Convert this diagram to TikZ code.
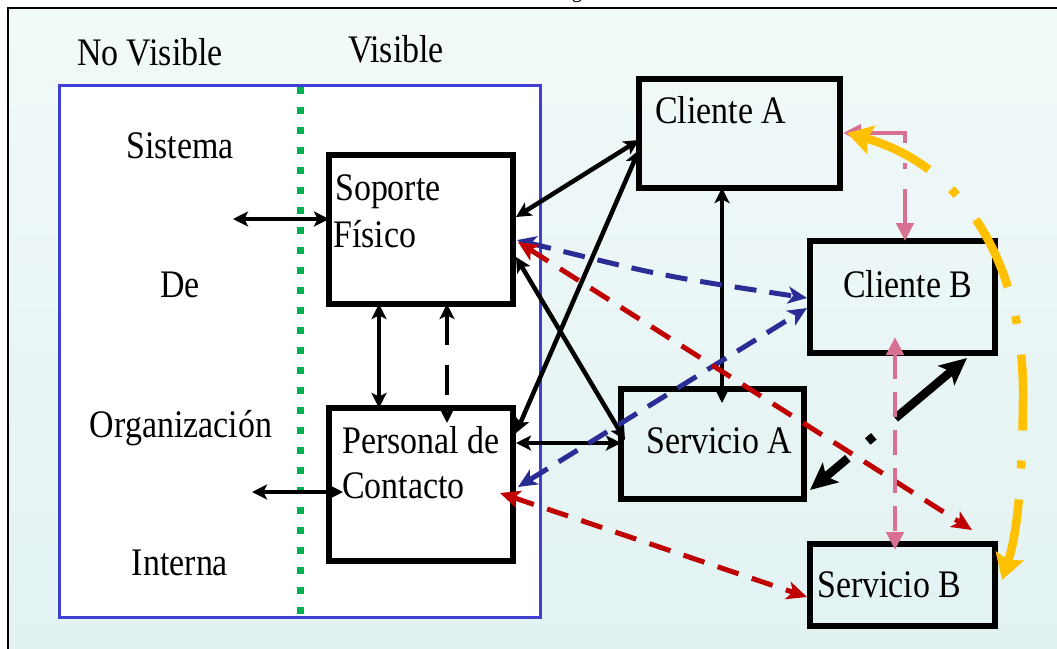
\documentclass[tikz,border=0pt]{standalone}
\usepackage{fontspec}
\setmainfont{Liberation Serif}[FakeStretch=0.87]
\usetikzlibrary{arrows.meta,calc}
\definecolor{bgtop}{RGB}{242,249,249}
\definecolor{bgbot}{RGB}{226,242,242}
\definecolor{rectblue}{RGB}{64,64,208}
\definecolor{dotgreen}{RGB}{0,176,80}
\definecolor{dblue}{RGB}{43,45,150}
\definecolor{dred}{RGB}{192,0,0}
\definecolor{pinkc}{RGB}{216,112,146}
\definecolor{orangec}{RGB}{255,192,0}
\begin{document}
\begin{tikzpicture}[x=1pt,y=-1pt,
  box/.style={draw=black, line width=6pt, inner sep=0pt, outer sep=0pt},
  txt/.style={inner sep=0pt, font=\fontsize{39}{45}\selectfont},
  blk/.style={draw=black, line width=4.5pt,
    {Stealth[length=15pt,width=15pt,inset=3.5pt]}-{Stealth[length=15pt,width=15pt,inset=3.5pt]}},
  thk/.style={draw=black, line width=8.5pt,
    {Stealth[length=27pt,width=25pt,inset=6pt]}-{Stealth[length=27pt,width=25pt,inset=6pt]},
    dash pattern=on 30pt off 26pt on 8pt off 28pt on 300pt},
  bl/.style={draw=dblue, line width=5pt, dash pattern=on 22pt off 13pt,
    {Stealth[length=19pt,width=17pt,inset=5pt]}-{Stealth[length=19pt,width=17pt,inset=5pt]}},
  rd/.style={draw=dred, line width=5pt, dash pattern=on 22pt off 14pt,
    {Stealth[length=20pt,width=18pt,inset=5pt]}-{Stealth[length=20pt,width=18pt,inset=5pt]}},
  pkd/.style={draw=pinkc, line width=4.5pt, dash pattern=on 25pt off 13pt,
    {Triangle[length=18pt,width=17pt]}-{Triangle[length=18pt,width=17pt]}},
  pkdd/.style={draw=pinkc, line width=4.5pt, dash pattern=on 55pt off 20pt on 6pt off 20pt on 200pt,
    {Triangle[length=18pt,width=17pt]}-{Triangle[length=18pt,width=17pt]}},
  org/.style={draw=orangec, line width=8.5pt,
    dash pattern=on 63pt off 31pt on 8pt off 30pt on 76pt off 31pt on 8pt off 30pt on 75pt off 31pt on 8pt off 30pt on 200pt,
    {Stealth[length=25pt,width=29pt,inset=4pt]}-{Stealth[length=25pt,width=29pt,inset=4pt]}}
]
\useasboundingbox (0,0) rectangle (1057,648);
% background and frame
\shade[top color=bgtop, bottom color=bgbot] (8,8) rectangle (1057,648);
\draw[line width=2pt] (1070,8) -- (8,8) -- (8,660);
\node[inner sep=0pt, font=\fontsize{24}{24}\selectfont, anchor=base] (cap) at (577,-3) {g};

% system rectangle
\draw[rectblue, line width=3pt, fill=white] (59,85) rectangle (540,617);
\draw[dotgreen, line width=7pt, dash pattern=on 7pt off 13pt] (300,87) -- (300,617);

% labels
\node[txt, anchor=base] (nv) at (150,65) {No Visible};
\node[txt, anchor=base] (vi) at (396,62) {Visible};
\node[txt, anchor=base] (l1) at (180,158) {Sistema};
\node[txt, anchor=base] (l2) at (180,297) {De};
\node[txt, anchor=base] (l3) at (181,437) {Organización};
\node[txt, anchor=base] (l4) at (180,575) {Interna};

% boxes
\node[box, minimum width=184pt, minimum height=149pt] (sf) at (421,229.5) {};
\node[box, minimum width=184pt, minimum height=153pt] (pc) at (421,484.5) {};
\node[box, minimum width=201pt, minimum height=109pt] (ca) at (739.5,133.5) {};
\node[box, minimum width=185pt, minimum height=112pt] (cb) at (902.5,297) {};
\node[box, minimum width=183pt, minimum height=110pt] (sa) at (712.5,444) {};
\node[box, minimum width=185pt, minimum height=82pt] (sb) at (902.5,585) {};

\node[txt, anchor=base west] (t1) at (335,200) {Soporte};
\node[txt, anchor=base west] (t2) at (333,247) {Físico};
\node[txt, anchor=base west] (t3) at (342,453) {Personal de};
\node[txt, anchor=base west] (t4) at (342,498) {Contacto};
\node[txt, anchor=base west] (t5) at (655,123) {Cliente A};
\node[txt, anchor=base west] (t6) at (843,297) {Cliente B};
\node[txt, anchor=base west] (t7) at (646,453) {Servicio A};
\node[txt, anchor=base west] (t8) at (817,597) {Servicio B};

% free ends
\coordinate (sysL) at (233,219);
\coordinate (orgL) at (252,492);

% black arrows
\draw[blk] (sysL) -- ([yshift=10.5pt]sf.west);
\draw[blk] (orgL) -- ([xshift=14pt,yshift=-7.5pt]pc.west);
\draw[blk] ([xshift=-42pt]sf.south) -- ([xshift=-42pt]pc.north);
\draw[blk, dash pattern=on 30pt off 20pt] ([xshift=26pt]sf.south) -- ([xshift=26pt,yshift=-15pt]pc.north);
\draw[blk] ([yshift=-6.5pt]ca.west) -- ([xshift=3pt,yshift=12.5pt]sf.east);
\draw[blk] ([yshift=-16.5pt]ca.west) -- ([xshift=3pt,yshift=51.5pt]pc.east);
\draw[blk] ([xshift=3pt,yshift=-27.5pt]sf.east) -- ([xshift=4pt,yshift=4pt]sa.west);
\draw[blk] ([xshift=3pt,yshift=41.5pt]pc.east) -- ([yshift=1pt]sa.west);
\draw[blk] ([xshift=-17.5pt]ca.south) -- ([xshift=9.5pt,yshift=-14pt]sa.north);
\draw[thk] ([xshift=6pt,yshift=-46pt]sa.east) -- ([xshift=64.5pt,yshift=-5pt]cb.south);

% blue dashed
\coordinate (b1s) at ([xshift=4pt,yshift=-10.5pt]sf.east);
\coordinate (b1e) at ([xshift=-3pt,yshift=-1pt]cb.west);
\draw[bl] (b1s) .. controls ($(b1s)!0.5!(b1e)+(0,7)$) .. (b1e);
\draw[bl] ([xshift=5pt,yshift=-2.5pt]pc.east) -- ([xshift=-3pt,yshift=-11pt]cb.west);

% red dashed
\draw[rd] ([xshift=5pt,yshift=-12.5pt]sf.east) -- ([xshift=69.5pt,yshift=14pt]sb.north);
\draw[rd] ([xshift=-13pt,yshift=-8.5pt]pc.east) -- ([xshift=-3pt,yshift=-12pt]sb.west);

% pink
\draw[pkdd] ([xshift=3pt,yshift=0.5pt]ca.east) -| ([xshift=2.5pt]cb.north);
\draw[pkd] ([xshift=-7.5pt,yshift=16pt]cb.south) -- ([xshift=-7.5pt,yshift=-6pt]sb.north);

% orange
\coordinate (o1) at ([xshift=7pt,yshift=5pt]sb.east);
\coordinate (o2) at ([xshift=7pt,yshift=0.5pt]ca.east);
\coordinate (om) at (1023,400);
\draw[org] (o1) .. controls (1015,540) and (1022,500) .. (om) .. controls (1025,260) and (960,165) .. (o2);
\end{tikzpicture}
\end{document}
